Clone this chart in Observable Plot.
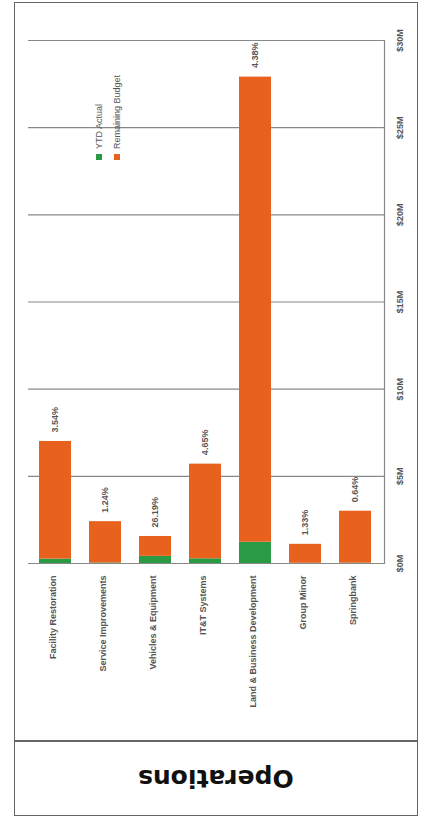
<!DOCTYPE html>
<html>
<head>
<meta charset="utf-8">
<script src="https://cdn.jsdelivr.net/npm/d3@7"></script>
<script src="https://cdn.jsdelivr.net/npm/@observablehq/plot@0.6"></script>
<style>
  html, body { margin: 0; padding: 0; background: #fff; }
  body { width: 423px; height: 818px; position: relative; overflow: hidden; font-family: "Liberation Sans", sans-serif; }
  #chart { position: absolute; left: 0; top: 0; }
  .box { position: absolute; border: 1.5px solid #666; box-sizing: border-box; }
  #title { position: absolute; left: 14px; top: 741px; width: 404px; height: 74px; display: flex; align-items: center; justify-content: center; }
  #title span { display: inline-block; transform: rotate(180deg); font-family: "DejaVu Sans", sans-serif; font-weight: bold; font-size: 25px; color: #111; }
  .leg { position: absolute; width: 0; height: 0; }
  .leg .sw { position: absolute; width: 6px; height: 6px; left: -3px; top: -3px; }
  .leg .tx { position: absolute; left: 0; top: -8px; transform-origin: 0 0; transform: rotate(-90deg) translate(0, -4.5px); white-space: nowrap; font-size: 9px; color: #555; line-height: 9px; }
</style>
</head>
<body>
<div class="box" style="left:14px;top:2px;width:404px;height:740px;"></div>
<div class="box" style="left:14px;top:740px;width:404px;height:76px;"></div>
<div id="chart"></div>
<div id="title"><span>Operations</span></div>
<div id="legend"></div>
<script>
// ---- data (values in $ millions) ----
const categories = ["Facility Restoration", "Service Improvements", "Vehicles & Equipment", "IT&T Systems", "Land & Business Development", "Group Minor", "Springbank"];
const ytdActual = [0.25, 0.03, 0.41, 0.27, 1.22, 0.015, 0.02];
const remainingBudget = [6.75, 2.37, 1.14, 5.43, 26.68, 1.085, 2.98];
const pctLabels = ["3.54%", "1.24%", "26.19%", "4.65%", "4.38%", "1.33%", "0.64%"];
const tickValues = [0, 5, 10, 15, 20, 25, 30];
const tickLabels = ["$0M", "$5M", "$10M", "$15M", "$20M", "$25M", "$30M"];
const seriesNames = ["YTD Actual", "Remaining Budget"];
const seriesColors = ["#2a9a45", "#e8621e"];

const rows = [];
categories.forEach((c, i) => {
  rows.push({category: c, series: seriesNames[0], value: ytdActual[i]});
  rows.push({category: c, series: seriesNames[1], value: remainingBudget[i]});
});
const totals = categories.map((c, i) => ({category: c, total: ytdActual[i] + remainingBudget[i], label: pctLabels[i]}));
const ticks = tickValues.map((v, i) => ({v, label: tickLabels[i]}));

const font = "Liberation Sans, sans-serif";
const chart = Plot.plot({
  width: 423,
  height: 740,
  marginTop: 40,
  marginBottom: 177,
  marginLeft: 29,
  marginRight: 42,
  style: {fontFamily: font, background: "transparent"},
  x: {domain: categories, paddingInner: 0.36, paddingOuter: 0.18, axis: null},
  y: {domain: [0, 30], axis: null},
  color: {domain: seriesNames, range: seriesColors},
  marks: [
    Plot.ruleY(tickValues, {stroke: "#888", strokeWidth: 1.2, insetLeft: -1, insetRight: -4}),
    Plot.frame({anchor: "right", stroke: "#888", strokeWidth: 1.2, dx: 3}),
    Plot.barY(rows, {x: "category", y: "value", fill: "series", order: seriesNames}),
    Plot.text(totals, {x: "category", y: "total", text: "label", dy: -9, rotate: -90, textAnchor: "start", fill: "#555", fontSize: 9, fontWeight: "bold"}),
    Plot.text(categories, {x: d => d, text: d => d, frameAnchor: "bottom", dy: 12, rotate: -90, textAnchor: "end", fill: "#555", fontSize: 9, fontWeight: "bold"}),
    Plot.text(ticks, {y: "v", text: "label", frameAnchor: "right", dx: 19, rotate: -90, textAnchor: "middle", fill: "#555", fontSize: 9, fontWeight: "bold"})
  ]
});
document.getElementById("chart").appendChild(chart);

// legend (HTML overlay)
const legend = document.getElementById("legend");
const legPos = [[99, 157], [117, 157]];
seriesNames.forEach((name, i) => {
  const d = document.createElement("div");
  d.className = "leg";
  d.style.left = legPos[i][0] + "px";
  d.style.top = legPos[i][1] + "px";
  d.innerHTML = `<div class="sw" style="background:${seriesColors[i]}"></div><div class="tx">${name}</div>`;
  legend.appendChild(d);
});
</script>
</body>
</html>
